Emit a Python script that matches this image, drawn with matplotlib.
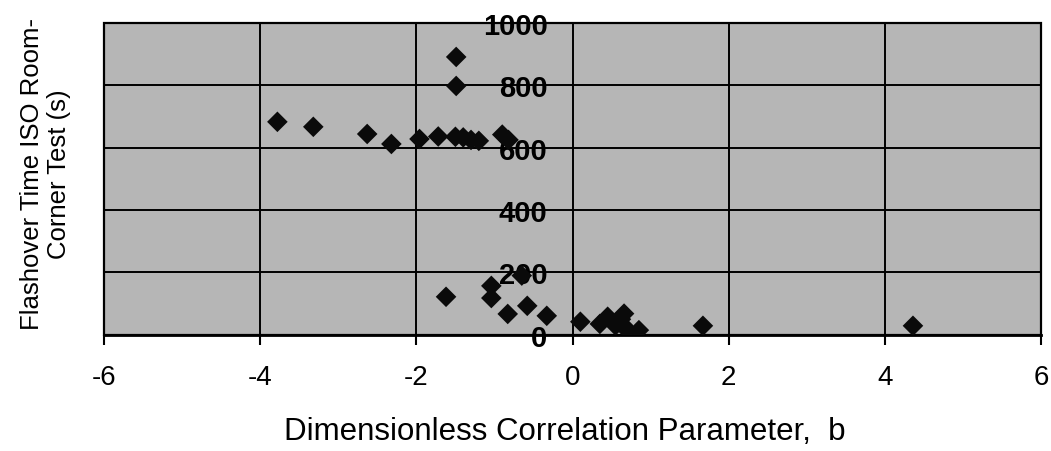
import matplotlib
matplotlib.use("Agg")
import matplotlib.pyplot as plt
from matplotlib.patches import Rectangle

plt.rcParams['font.family'] = ['Liberation Sans', 'DejaVu Sans']

# Data: (b, flashover time)
b_values = [-3.78, -3.32, -2.63, -2.32, -1.96, -1.72, -1.50, -1.40, -1.30, -1.20,
            -0.90, -0.82,
            -1.49, -1.49,
            -1.62, -1.04, -1.04, -0.83, -0.65, -0.58, -0.33,
            0.10, 0.35, 0.45, 0.55, 0.62, 0.66, 0.70, 0.65, 0.85,
            1.67, 4.36]
flashover_s = [683, 667, 644, 612, 628, 636, 635, 633, 625, 622,
               642, 625,
               891, 798,
               122, 157, 118, 67, 190, 93, 61,
               42, 35, 58, 30, 50, 68, 15, 30, 15,
               29, 29]

x_ticks = [-6, -4, -2, 0, 2, 4, 6]
y_ticks = [0, 200, 400, 600, 800, 1000]
x_label = "Dimensionless Correlation Parameter,  b"
y_label = "Flashover Time ISO Room-\nCorner Test (s)"

fig = plt.figure(figsize=(10.51, 4.52), dpi=100)
ax = fig.add_axes([0.099, 0.257, 0.8915, 0.690])
ax.set_facecolor('#b6b6b6')
ax.set_xlim(-6, 6)
ax.set_ylim(0, 1000)

# grid
for gx in x_ticks[1:-1]:
    ax.axvline(gx, color='black', lw=1.4, zorder=1)
for gy in y_ticks[1:-1]:
    ax.axhline(gy, color='black', lw=1.4, zorder=1)

ax.scatter(b_values, flashover_s, marker='D', s=110, color='#0a0a0a',
           edgecolors='none', zorder=3)

# spines
for s in ['top', 'right']:
    ax.spines[s].set_visible(False)
ax.spines['left'].set_position(('data', 0))
ax.spines['left'].set_visible(False)
ax.spines['bottom'].set_linewidth(2.0)
ax.add_patch(Rectangle((0, 0), 1, 1, transform=ax.transAxes, fill=False,
                       edgecolor='black', lw=1.6, zorder=2, clip_on=False))

ax.set_xticks(x_ticks)
ax.set_xticklabels([str(v) for v in x_ticks])
ax.set_yticks(y_ticks)
ax.set_yticklabels([str(v) for v in y_ticks])
ax.tick_params(axis='x', direction='out', length=7, width=1.5, pad=14,
               labelsize=20, color='black')
ax.tick_params(axis='y', length=0, pad=18, labelsize=21)
for lbl in ax.get_yticklabels():
    lbl.set_fontweight('bold')
    lbl.set_zorder(4)

fig.text(0.537, 0.045, x_label, ha='center', va='center', fontsize=22.5)
fig.text(0.043, 0.615, y_label, ha='center', va='center', rotation=90,
         fontsize=18.5, linespacing=1.15, multialignment='center')

fig.savefig('out.png', dpi=100)
